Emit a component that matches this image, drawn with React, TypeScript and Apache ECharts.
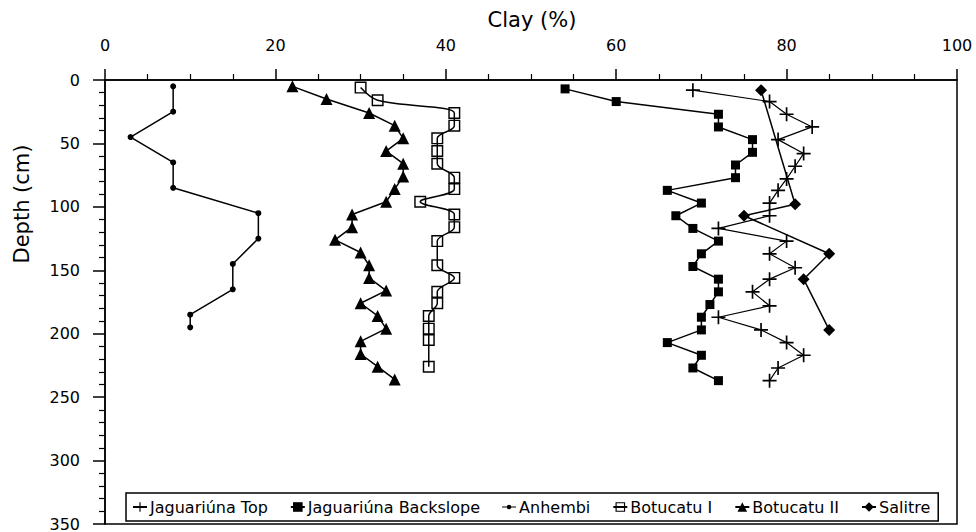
import React, { useEffect, useRef } from "react";
import * as echarts from "echarts";

// ---- data (Clay % vs depth cm) ----
const topDepth = [8, 17, 27, 37, 47, 58, 68, 78, 87, 97, 107, 117, 127, 137, 148, 157, 167, 178, 187, 197, 207, 217, 227, 237];
const topClay = [69, 78, 80, 83, 79, 82, 81, 80, 79, 78, 78, 72, 80, 78, 81, 78, 76, 78, 72, 77, 80, 82, 79, 78];

const backDepth = [7, 17, 27, 37, 47, 57, 67, 77, 87, 97, 107, 117, 127, 137, 147, 157, 167, 177, 187, 197, 207, 217, 227, 237];
const backClay = [54, 60, 72, 72, 76, 76, 74, 74, 66, 70, 67, 69, 72, 70, 69, 72, 72, 71, 70, 70, 66, 70, 69, 72];

const anhDepth = [5, 25, 45, 65, 85, 105, 125, 145, 165, 185, 195];
const anhClay = [8, 8, 3, 8, 8, 18, 18, 15, 15, 10, 10];

const bot1Depth = [6, 16, 26, 36, 46, 56, 66, 77, 86, 96, 106, 116, 127, 146, 156, 167, 176, 186, 196, 205, 226];
const bot1Clay = [30, 32, 41, 41, 39, 39, 39, 41, 41, 37, 41, 41, 39, 39, 41, 39, 39, 38, 38, 38, 38];

const bot2Depth = [5, 15, 26, 36, 46, 56, 66, 76, 86, 96, 106, 116, 126, 136, 146, 156, 166, 176, 186, 196, 206, 216, 226, 236];
const bot2Clay = [22, 26, 31, 34, 35, 33, 35, 35, 34, 33, 29, 29, 27, 30, 31, 31, 33, 30, 32, 33, 30, 30, 32, 34];

const salDepth = [8, 98, 107, 137, 157, 197];
const salClay = [77, 81, 75, 85, 82, 85];

const seriesNames = ["Jaguariúna Top", "Jaguariúna Backslope", "Anhembi", "Botucatu I", "Botucatu II", "Salitre"];
const xTitle = "Clay (%)";
const yTitle = "Depth (cm)";

const FONT = "DejaVu Sans";

const PLUS = "path://M4.4,0H5.6V4.4H10V5.6H5.6V10H4.4V5.6H0V4.4H4.4Z";
const HOLLOW = "path://M0,0H10V10H0ZM1.2,1.2V8.8H8.8V1.2Z";
const DOT_ICON = "path://M0,5.4H14V6.6H0Z M9.3,6 A2.3,2.3 0 1 1 4.7,6 A2.3,2.3 0 1 1 9.3,6Z M7,0.5 L7,0.5Z M7,11.5 L7,11.5Z";

function pairs(xs: number[], ds: number[]) {
  return xs.map((v, i) => [v, ds[i]]);
}

export default function App() {
  const ref = useRef<HTMLDivElement>(null);
  useEffect(() => {
    if (!ref.current) return;
    const chart = echarts.init(ref.current, undefined, { renderer: "svg" });
    const mk = (name: string, data: number[][], symbol: string, size: number, width: number, smooth: number | boolean = false) => ({
      name,
      type: "line",
      data,
      symbol,
      symbolSize: size,
      smooth,
      lineStyle: { color: "#000", width },
      itemStyle: { color: "#000" },
      emphasis: { disabled: true },
    });
    chart.setOption({
      animation: false,
      backgroundColor: "#fff",
      textStyle: { fontFamily: FONT },
      grid: { left: 105, right: 19, top: 80, bottom: 2, show: true, borderColor: "#000", borderWidth: 1.5, backgroundColor: "transparent" },
      xAxis: {
        type: "value",
        position: "top",
        min: 0,
        max: 100,
        interval: 20,
        axisLine: { show: true, onZero: false, lineStyle: { color: "#000", width: 1.5 } },
        axisTick: { show: true, length: 11, lineStyle: { color: "#000", width: 1.5 } },
        minorTick: { show: true, splitNumber: 4, length: 6, lineStyle: { color: "#000", width: 1.2 } },
        axisLabel: { color: "#000", fontSize: 16, fontFamily: FONT, margin: 27 },
        splitLine: { show: false },
        minorSplitLine: { show: false },
      },
      yAxis: {
        type: "value",
        inverse: true,
        min: 0,
        max: 350,
        interval: 50,
        axisLine: { show: true, onZero: false, lineStyle: { color: "#000", width: 1.5 } },
        axisTick: { show: true, length: 12, lineStyle: { color: "#000", width: 1.5 } },
        minorTick: { show: true, splitNumber: 5, length: 6, lineStyle: { color: "#000", width: 1.2 } },
        axisLabel: { color: "#000", fontSize: 16, fontFamily: FONT, margin: 25 },
        splitLine: { show: false },
        minorSplitLine: { show: false },
      },
      legend: {
        left: 126,
        top: 493,
        orient: "horizontal",
        padding: [6, 8, 6, 6],
        itemGap: 22,
        itemWidth: 14,
        itemHeight: 12,
        borderColor: "#000",
        borderWidth: 1.5,
        backgroundColor: "#fff",
        textStyle: { color: "#000", fontSize: 16, fontFamily: FONT, padding: [0, 0, 0, -2] },
        data: seriesNames.map((n) => (n === "Anhembi" ? { name: n, icon: DOT_ICON } : n)),
      },
      graphic: [
        {
          type: "text",
          x: 532,
          y: 20,
          style: { text: xTitle, font: `21px '${FONT}'`, fill: "#000", textAlign: "center", textVerticalAlign: "middle" },
        },
        {
          type: "text",
          x: 22,
          y: 204,
          rotation: Math.PI / 2,
          style: { text: yTitle, font: `21px '${FONT}'`, fill: "#000", textAlign: "center", textVerticalAlign: "middle" },
        },
      ],
      series: [
        mk(seriesNames[0], pairs(topClay, topDepth), PLUS, 14, 1.2),
        mk(seriesNames[1], pairs(backClay, backDepth), "rect", 9, 1.5),
        mk(seriesNames[2], pairs(anhClay, anhDepth), "circle", 6, 1.5),
        mk(seriesNames[3], pairs(bot1Clay, bot1Depth), HOLLOW, 12, 1.5, 0.35),
        mk(seriesNames[4], pairs(bot2Clay, bot2Depth), "triangle", 12, 1.5),
        mk(seriesNames[5], pairs(salClay, salDepth), "diamond", 12, 1.5),
      ],
    });
    return () => chart.dispose();
  }, []);
  return <div ref={ref} style={{ position: "fixed", left: 0, top: 0, width: 976, height: 532 }} />;
}
